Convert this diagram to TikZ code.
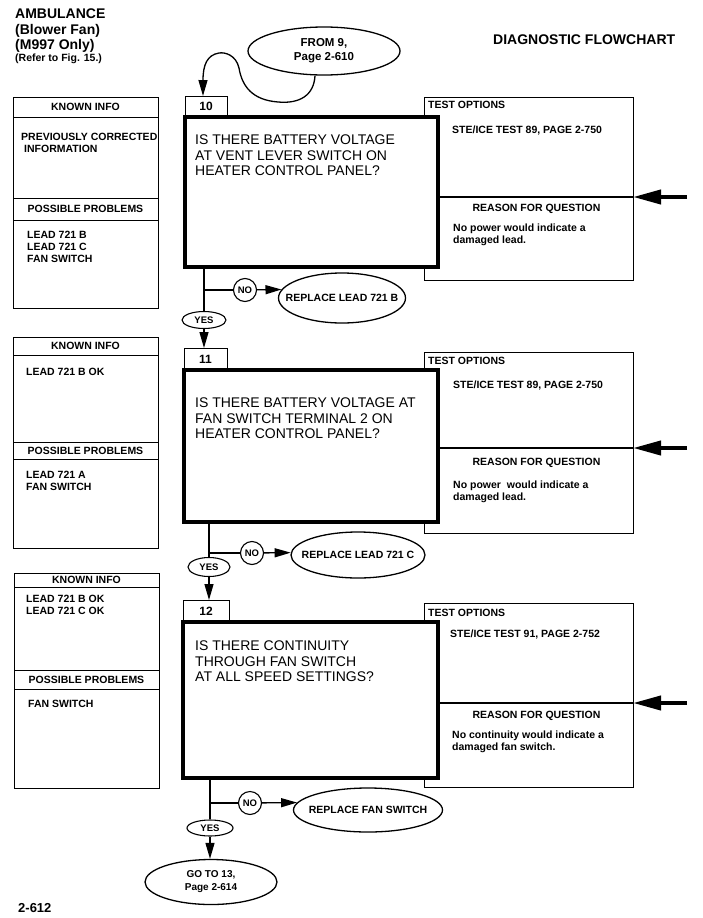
\documentclass[tikz,border=0pt]{standalone}
\usepackage{fontspec}
\setmainfont{Liberation Sans}
\usepackage{tikz}
\usetikzlibrary{arrows.meta,positioning,shapes.geometric}
\newcommand{\smallbf}{\bfseries\fontsize{10.5}{12}\selectfont}
\tikzset{
  title/.style={anchor=north west,inner sep=0pt,align=left,font=\bfseries\fontsize{14}{15.5}\selectfont},
  panel/.style={draw,line width=.9pt,inner sep=0pt,outer sep=0pt,minimum width=145pt},
  head/.style={panel,font=\smallbf},
  note/.style={align=left,inner sep=0pt,font=\smallbf},
  question/.style={draw,line width=4pt,fill=white,inner sep=0pt,outer sep=0pt},
  qtext/.style={align=left,inner sep=0pt,font=\fontsize{14}{15.5}\selectfont},
  stepno/.style={draw,line width=1pt,inner sep=0pt,outer sep=0pt,font=\bfseries\fontsize{12}{12}\selectfont},
  optbox/.style={draw,line width=1pt,inner sep=0pt,outer sep=0pt,minimum width=209pt},
  oval/.style={ellipse,draw,line width=1.3pt,inner xsep=-18pt,inner ysep=0pt,align=center,font=\smallbf},
  answer/.style={ellipse,draw,line width=1.1pt,inner sep=0pt,font=\bfseries\fontsize{9.5}{10}\selectfont},
  nobub/.style={circle,draw,line width=1.1pt,inner sep=0pt,minimum size=23pt,font=\bfseries\fontsize{9.5}{10}\selectfont},
  flow/.style={line width=1.3pt},
  arrow/.style={-{Triangle[length=16pt,width=9pt]},line width=1.3pt},
  inarrow/.style={-{Triangle[length=28pt,width=14pt]},line width=4pt}
}

\begin{document}
\begin{tikzpicture}[x=1pt,y=-1pt]
\useasboundingbox (0,0) rectangle (702,918);

\node[title] (ttl) at (15,9) {AMBULANCE\\(Blower Fan)\\(M997 Only)};
\node[title,font=\smallbf] (ref) at (15,54) {(Refer to Fig. 15.)};
\node[title] (dfc) at (493,35) {DIAGNOSTIC FLOWCHART};
\node[title,font=\bfseries\fontsize{13}{15}\selectfont] (pg) at (18,903) {2-612};

\node[oval,minimum width=152pt,minimum height=48pt,font=\bfseries\fontsize{11.5}{14}\selectfont] (from9) at (324,51) {FROM 9,\\Page 2-610};

\node[head,anchor=north west,minimum height=20pt] (kh10) at (13,97) {KNOWN INFO};
\node[panel,below=0pt of kh10,minimum height=81pt] (kb10) {};
\node[head,below=0pt of kb10,minimum height=22pt] (ph10) {POSSIBLE PROBLEMS};
\node[panel,below=0pt of ph10,minimum height=88pt] (pb10) {};
\node[note,below right=16pt and 8pt of kb10.north west] (kt10) {PREVIOUSLY CORRECTED\\\hspace{3pt}INFORMATION};
\node[note,below right=11pt and 14pt of pb10.north west] (pt10) {LEAD 721 B\\LEAD 721 C\\FAN SWITCH};

\node[optbox,anchor=north west,minimum height=100pt] (to10) at (424,97) {};
\node[optbox,below=0pt of to10,minimum height=83pt] (rq10) {};
\draw[line width=2pt] (to10.south west) -- (to10.south east);
\node[note,below right=4pt and 4pt of to10.north west] (toh10) {TEST OPTIONS};
\node[note,below right=29pt and 28pt of to10.north west] (tot10) {STE/ICE TEST 89, PAGE 2-750};
\node[note,below=7pt of rq10.north,xshift=8pt] (rqh10) {REASON FOR QUESTION};
\node[note,below right=27pt and 29pt of rq10.north west] (rqt10) {No power would indicate a\\damaged lead.};
\coordinate (in10) at (687,197);
\draw[inarrow] (in10) -- (to10.south east);

\node[question,anchor=north west,minimum width=253pt,minimum height=150pt] (q10) at (185,117) {};
\node[stepno,above right=0pt and 0pt of q10.north west,minimum width=42pt,minimum height=21pt] (n10) {10};
\node[qtext,below right=18pt and 10pt of q10.north west] (qt10) {IS THERE BATTERY VOLTAGE\\AT VENT LEVER SWITCH ON\\HEATER CONTROL PANEL?};

\draw[arrow] ([xshift=-9pt]from9.south) .. controls (314,95) and (300,104) .. (278,102)
  .. controls (252,100) and (242,86) .. (239,68)
  .. controls (236,55) and (225,52) .. (219,53)
  .. controls (207,55) and (203,65) .. (n10.106);

\node[nobub] (no10) at (245,290) {NO};
\node[oval,minimum width=127pt,minimum height=50pt] (rep10) at (342,298) {REPLACE LEAD 721 B};
\node[answer,minimum width=44pt,minimum height=17pt] (yes10) at (204,320) {YES};
\coordinate (br10) at (yes10.north |- no10);
\draw[flow] (q10.south -| yes10.north) -- (yes10.north);
\draw[flow] (br10) -- (no10);
\draw[arrow] (no10) -- (rep10.172);

\node[head,anchor=north west,minimum height=18pt] (kh11) at (13,337) {KNOWN INFO};
\node[panel,below=0pt of kh11,minimum height=87pt] (kb11) {};
\node[head,below=0pt of kb11,minimum height=17pt] (ph11) {POSSIBLE PROBLEMS};
\node[panel,below=0pt of ph11,minimum height=89pt] (pb11) {};
\node[note,below right=13pt and 13pt of kb11.north west] (kt11) {LEAD 721 B OK};
\node[note,below right=12pt and 13pt of pb11.north west] (pt11) {LEAD 721 A\\FAN SWITCH};

\node[optbox,anchor=north west,minimum height=96pt] (to11) at (424,352) {};
\node[optbox,below=0pt of to11,minimum height=85pt] (rq11) {};
\draw[line width=2pt] (to11.south west) -- (to11.south east);
\node[note,below right=4.5pt and 4pt of to11.north west] (toh11) {TEST OPTIONS};
\node[note,below right=29pt and 29pt of to11.north west] (tot11) {STE/ICE TEST 89, PAGE 2-750};
\node[note,below=10pt of rq11.north,xshift=8pt] (rqh11) {REASON FOR QUESTION};
\node[note,below right=33pt and 29pt of rq11.north west] (rqt11) {No power~ would indicate a\\damaged lead.};
\coordinate (in11) at (687,448);
\draw[inarrow] (in11) -- (to11.south east);

\node[question,anchor=north west,minimum width=254pt,minimum height=152pt] (q11) at (184,370) {};
\node[stepno,above right=0pt and 0pt of q11.north west,minimum width=43pt,minimum height=22pt] (n11) {11};
\node[qtext,below right=28pt and 11pt of q11.north west] (qt11) {IS THERE BATTERY VOLTAGE AT\\FAN SWITCH TERMINAL 2 ON\\HEATER CONTROL PANEL?};
\draw[arrow] (yes10.south) -- (yes10.south |- n11.north);

\node[nobub] (no11) at (252,553) {NO};
\node[oval,minimum width=134pt,minimum height=46pt] (rep11) at (358,555) {REPLACE LEAD 721 C};
\node[answer,minimum width=42pt,minimum height=19pt] (yes11) at (209,567) {YES};
\coordinate (br11) at (yes11.north |- no11);
\draw[flow] (q11.south -| yes11.north) -- (yes11.north);
\draw[flow] (br11) -- (no11);
\draw[arrow] (no11) -- (rep11.178);

\node[head,anchor=north west,minimum height=14pt] (kh12) at (14,573) {KNOWN INFO};
\node[panel,below=0pt of kh12,minimum height=83pt] (kb12) {};
\node[head,below=0pt of kb12,minimum height=19pt] (ph12) {POSSIBLE PROBLEMS};
\node[panel,below=0pt of ph12,minimum height=99pt] (pb12) {};
\node[note,below right=8pt and 12pt of kb12.north west] (kt12) {LEAD 721 B OK\\LEAD 721 C OK};
\node[note,below right=11pt and 14pt of pb12.north west] (pt12) {FAN SWITCH};

\node[optbox,anchor=north west,minimum height=100pt] (to12) at (424,603) {};
\node[optbox,below=0pt of to12,minimum height=84pt] (rq12) {};
\draw[line width=2pt] (to12.south west) -- (to12.south east);
\node[note,below right=6pt and 4pt of to12.north west] (toh12) {TEST OPTIONS};
\node[note,below right=27pt and 26pt of to12.north west] (tot12) {STE/ICE TEST 91, PAGE 2-752};
\node[note,below=8pt of rq12.north,xshift=8pt] (rqh12) {REASON FOR QUESTION};
\node[note,below right=28pt and 28pt of rq12.north west] (rqt12) {No continuity would indicate a\\damaged fan switch.};
\coordinate (in12) at (687,703);
\draw[inarrow] (in12) -- (to12.south east);

\node[question,anchor=north west,minimum width=255pt,minimum height=156pt] (q12) at (183,622) {};
\node[stepno,above right=0pt and 0pt of q12.north west,minimum width=46pt,minimum height=22pt] (n12) {12};
\node[qtext,below right=19pt and 12pt of q12.north west] (qt12) {IS THERE CONTINUITY\\THROUGH FAN SWITCH\\AT ALL SPEED SETTINGS?};
\draw[arrow] (yes11.south) -- (yes11.south |- n12.north);

\node[nobub] (no12) at (250,803) {NO};
\node[oval,minimum width=149pt,minimum height=44pt] (rep12) at (368,810) {REPLACE FAN SWITCH};
\node[answer,minimum width=46pt,minimum height=16pt] (yes12) at (210,828) {YES};
\coordinate (br12) at (yes12.north |- no12);
\draw[flow] (q12.south -| yes12.north) -- (yes12.north);
\draw[flow] (br12) -- (no12);
\draw[arrow] (no12) -- (rep12.174);

\node[oval,minimum width=132pt,minimum height=45pt,font=\bfseries\fontsize{10}{13}\selectfont] (goto) at (211,882) {GO TO 13,\\Page 2-614};
\draw[arrow] (yes12.south) -- (yes12.south |- goto.north);
\end{tikzpicture}
\end{document}
